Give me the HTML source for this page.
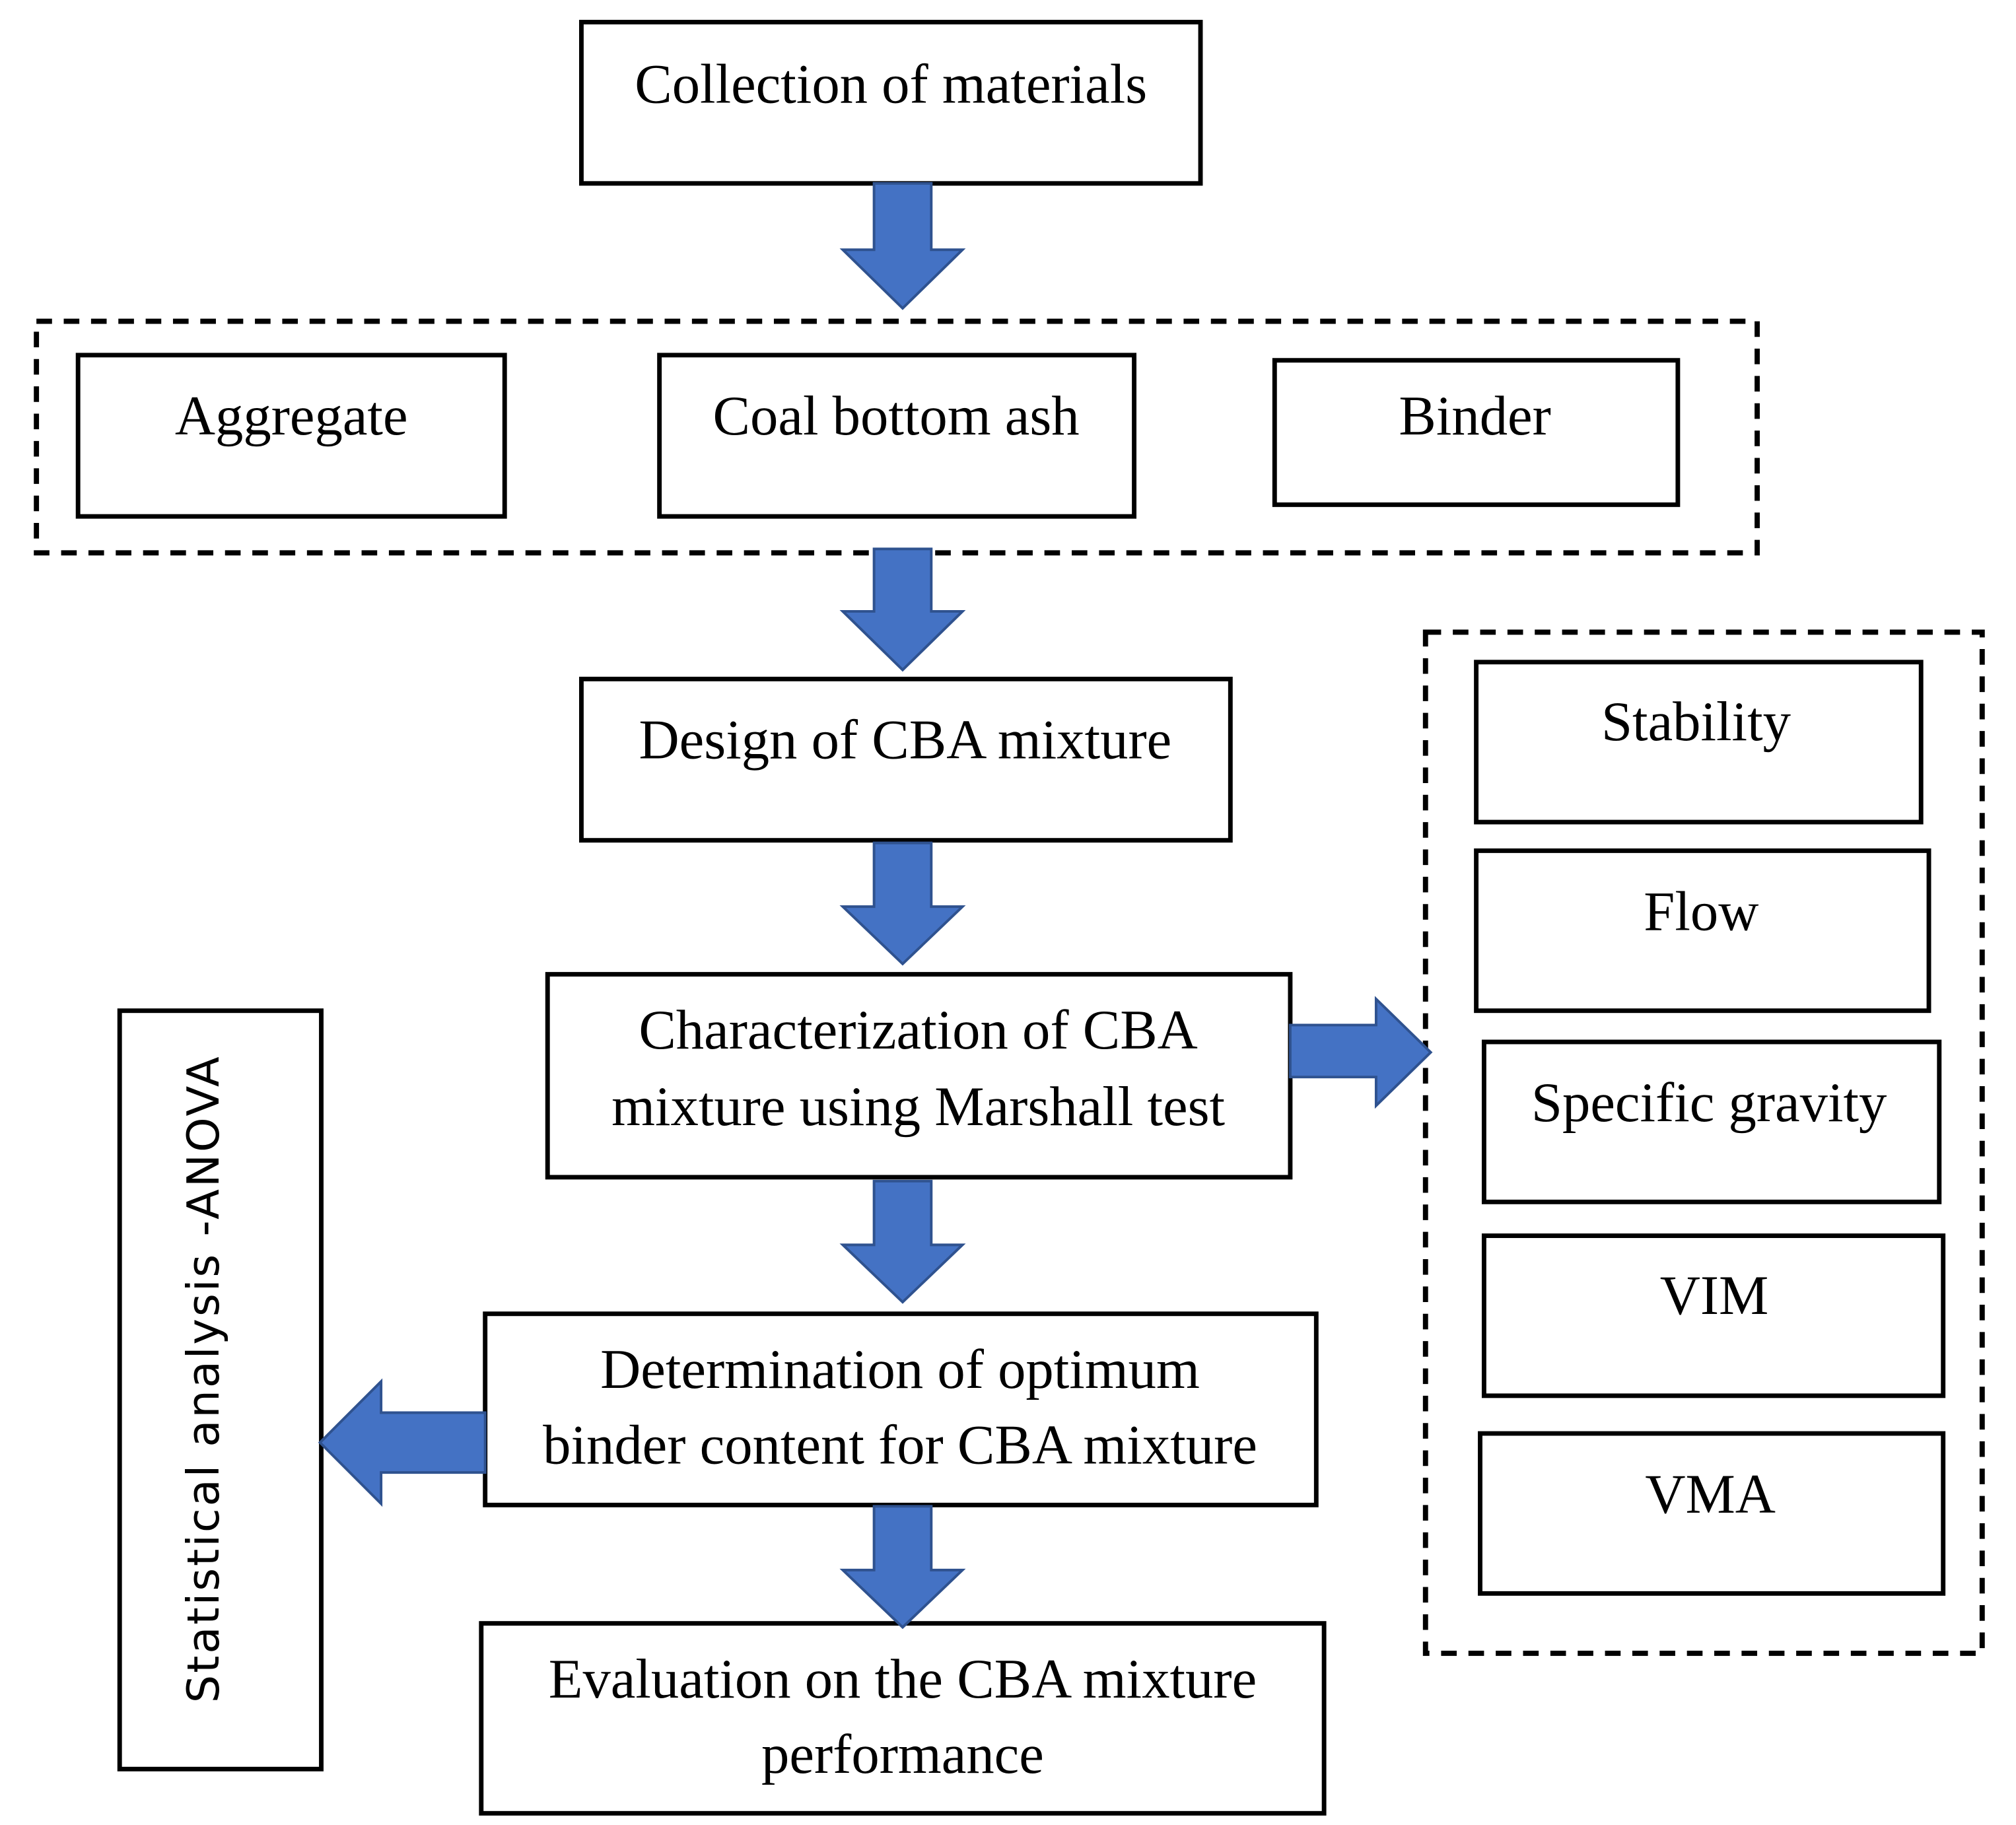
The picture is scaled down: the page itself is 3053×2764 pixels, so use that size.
<!DOCTYPE html>
<html><head><meta charset="utf-8"><style>
html,body{margin:0;padding:0;background:#fff;}
svg{display:block;}
text{font-family:"Liberation Serif",serif;font-size:43px;fill:#000;text-anchor:middle;}
</style></head><body>
<svg width="3053" height="2764" viewBox="0 0 1550 1403" preserveAspectRatio="none" xmlns="http://www.w3.org/2000/svg">
<g fill="none" stroke="#000" stroke-width="3.5">
<rect x="447" y="17" width="476" height="124"/>
<rect x="28" y="247" width="1323" height="178" stroke-dasharray="12,9" stroke-width="4"/>
<rect x="60" y="273" width="328" height="124"/>
<rect x="507" y="273" width="365" height="124"/>
<rect x="980" y="277" width="310" height="111"/>
<rect x="447" y="522" width="499" height="124"/>
<rect x="421" y="749" width="571" height="156"/>
<rect x="373" y="1010" width="639" height="147"/>
<rect x="370" y="1248" width="648" height="146"/>
<rect x="92" y="777" width="155" height="583"/>
<rect x="1096" y="486" width="428" height="785" stroke-dasharray="12,9" stroke-width="4"/>
<rect x="1135" y="509" width="342" height="123"/>
<rect x="1135" y="654" width="348" height="123"/>
<rect x="1141" y="801" width="350" height="123"/>
<rect x="1141" y="950" width="353" height="123"/>
<rect x="1138" y="1102" width="356" height="123"/>
</g>
<g fill="#4472C4" stroke="#2F528F" stroke-width="2">
<polygon points="672,141 716,141 716,192 740,192 694,237 648,192 672,192"/>
<polygon points="672,422 716,422 716,470 740,470 694,515 648,470 672,470"/>
<polygon points="672,648 716,648 716,697 740,697 694,741 648,697 672,697"/>
<polygon points="672,908 716,908 716,957 740,957 694,1001 648,957 672,957"/>
<polygon points="672,1158 716,1158 716,1207 740,1207 694,1251 648,1207 672,1207"/>
<polygon points="992,788 1058,788 1058,768 1100,809 1058,850 1058,828 992,828"/>
<polygon points="373,1086 293,1086 293,1062 246,1109 293,1156 293,1132 373,1132"/>
</g>
<text x="685" y="79">Collection of materials</text>
<text x="224" y="334">Aggregate</text>
<text x="689" y="334">Coal bottom ash</text>
<text x="1134" y="334">Binder</text>
<text x="696" y="583">Design of CBA mixture</text>
<text x="706" y="806">Characterization of CBA</text>
<text x="706" y="865">mixture using Marshall test</text>
<text x="692" y="1067">Determination of optimum</text>
<text x="692" y="1125">binder content for CBA mixture</text>
<text x="694" y="1305">Evaluation on the CBA mixture</text>
<text x="694" y="1363">performance</text>
<text x="1304" y="569">Stability</text>
<text x="1308" y="715">Flow</text>
<text x="1314" y="862">Specific gravity</text>
<text x="1318" y="1010">VIM</text>
<text x="1315" y="1163">VMA</text>
<text x="0" y="0" transform="translate(168,1060) rotate(-90)" style="font-family:'DejaVu Sans',sans-serif;font-size:34px;letter-spacing:1.5px">Statistical analysis -ANOVA</text>
</svg>
</body></html>
